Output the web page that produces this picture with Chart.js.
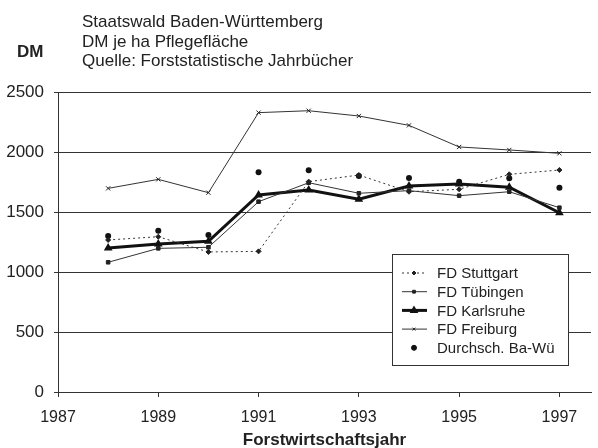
<!DOCTYPE html>
<html>
<head>
<meta charset="utf-8">
<script src="https://cdn.jsdelivr.net/npm/chart.js"></script>
<style>
    body { margin: 0; background: #fff; }
    #wrap { position: relative; width: 598px; height: 448px; font-family: "Liberation Sans", Arial, sans-serif; }
    #wrap canvas { position: absolute; left: 0; top: 0; }
    .txt { position: absolute; font-size: 17px; line-height: 19.5px; color: #222; white-space: nowrap; }
</style>
</head>
<body>
<div id="wrap">
    <canvas id="dmChart" width="598" height="448"></canvas>
    <div class="txt" style="left:82px; top:12px;">Staatswald Baden-Württemberg<br>DM je ha Pflegefläche<br>Quelle: Forststatistische Jahrbücher</div>
    <div class="txt" style="left:17px; top:42px; font-weight:bold;">DM</div>
</div>
<script>
// Werte (DM je ha)
const years = [1988, 1989, 1990, 1991, 1992, 1993, 1994, 1995, 1996, 1997];
const stuttgart = [1267, 1294, 1167, 1172, 1753, 1808, 1669, 1689, 1814, 1850];
const tuebingen = [1081, 1197, 1206, 1586, 1744, 1656, 1678, 1636, 1669, 1536];
const karlsruhe = [1200, 1233, 1256, 1642, 1683, 1606, 1717, 1733, 1706, 1494];
const freiburg = [1697, 1772, 1661, 2328, 2344, 2300, 2222, 2042, 2017, 1989];
const durchschnitt = [1300, 1344, 1308, 1831, 1847, 1800, 1783, 1753, 1781, 1703];
const xTicks = [1987, 1989, 1991, 1993, 1995, 1997];
const yTicks = [0, 500, 1000, 1500, 2000, 2500];

const FONT = '"Liberation Sans", Arial, sans-serif';

function pts(values) {
    return years.map((y, i) => ({ x: y, y: values[i] }));
}

// Legende als Kasten im Diagramm
const boxLegend = {
    id: 'boxLegend',
    afterDraw(chart) {
        const ctx = chart.ctx;
        const x = 392, y = 254, w = 176, h = 111;
        ctx.save();
        ctx.fillStyle = '#fff';
        ctx.fillRect(x, y, w, h);
        ctx.strokeStyle = '#333';
        ctx.lineWidth = 1;
        ctx.strokeRect(x + 0.5, y + 0.5, w, h);
        ctx.font = '15px ' + FONT;
        ctx.textBaseline = 'middle';
        chart.data.datasets.forEach((ds, i) => {
            const cy = y + 19 + i * 18.7;
            if (ds.showLine !== false) {
                ctx.strokeStyle = ds.borderColor;
                ctx.lineWidth = ds.borderWidth;
                ctx.setLineDash(ds.borderDash || []);
                ctx.beginPath();
                ctx.moveTo(x + 10, cy);
                ctx.lineTo(x + 35, cy);
                ctx.stroke();
                ctx.setLineDash([]);
            }
            ctx.fillStyle = ds.pointBackgroundColor;
            ctx.strokeStyle = ds.pointBorderColor;
            Chart.helpers.drawPoint(ctx, {
                pointStyle: ds.pointStyle,
                radius: ds.pointStyle === 'circle' ? 2.5 : 2,
                borderWidth: 1,
                rotation: 0
            }, x + 22, cy);
            ctx.fillStyle = '#222';
            ctx.fillText(ds.label, x + 45, cy + 1);
        });
        ctx.restore();
    }
};

new Chart(document.getElementById('dmChart'), {
    type: 'line',
    data: {
        datasets: [
            {
                label: 'FD Stuttgart',
                data: pts(stuttgart),
                borderColor: '#333',
                borderWidth: 1,
                borderDash: [2, 3],
                pointStyle: 'rectRot',
                pointRadius: 2.5,
                pointBackgroundColor: '#222',
                pointBorderColor: '#222',
                tension: 0
            },
            {
                label: 'FD Tübingen',
                data: pts(tuebingen),
                borderColor: '#333',
                borderWidth: 1,
                pointStyle: 'rect',
                pointRadius: 2.5,
                pointBackgroundColor: '#222',
                pointBorderColor: '#222',
                tension: 0
            },
            {
                label: 'FD Karlsruhe',
                data: pts(karlsruhe),
                borderColor: '#111',
                borderWidth: 3,
                pointStyle: 'triangle',
                pointRadius: 2,
                pointBackgroundColor: '#111',
                pointBorderColor: '#111',
                tension: 0
            },
            {
                label: 'FD Freiburg',
                data: pts(freiburg),
                borderColor: '#333',
                borderWidth: 1,
                pointStyle: 'crossRot',
                pointRadius: 3,
                pointBackgroundColor: '#222',
                pointBorderColor: '#222',
                tension: 0
            },
            {
                label: 'Durchsch. Ba-Wü',
                data: pts(durchschnitt),
                showLine: false,
                borderColor: '#111',
                borderWidth: 0,
                pointStyle: 'circle',
                pointRadius: 3,
                pointBackgroundColor: '#111',
                pointBorderColor: '#111'
            }
        ]
    },
    options: {
        responsive: false,
        animation: false,
        layout: { padding: { left: 0, right: 0, top: 92, bottom: 0 } },
        plugins: {
            legend: { display: false },
            tooltip: { enabled: false }
        },
        scales: {
            x: {
                type: 'linear',
                min: 1987,
                max: 1997.63,
                afterBuildTicks: (scale) => { scale.ticks = xTicks.map(v => ({ value: v })); },
                afterFit: (scale) => { scale.height = 56; },
                border: { display: true, color: '#333', width: 1 },
                grid: { drawOnChartArea: false, drawTicks: true, tickLength: 5, color: '#333' },
                ticks: {
                    color: '#222',
                    font: { family: FONT, size: 16 },
                    padding: 11,
                    maxRotation: 0,
                    callback: (v) => String(v)
                },
                title: {
                    display: true,
                    text: 'Forstwirtschaftsjahr',
                    color: '#222',
                    font: { family: FONT, size: 17, weight: 'bold' },
                    padding: { top: 0, bottom: -3 }
                }
            },
            y: {
                min: 0,
                max: 2500,
                afterBuildTicks: (scale) => { scale.ticks = yTicks.map(v => ({ value: v })); },
                afterFit: (scale) => { scale.width = 58; },
                border: { display: true, color: '#333', width: 1 },
                grid: { color: '#333', lineWidth: 1, tickLength: 4 },
                ticks: {
                    color: '#222',
                    font: { family: FONT, size: 17 },
                    padding: 10,
                    callback: (v) => String(v)
                }
            }
        }
    },
    plugins: [boxLegend]
});
</script>
</body>
</html>
